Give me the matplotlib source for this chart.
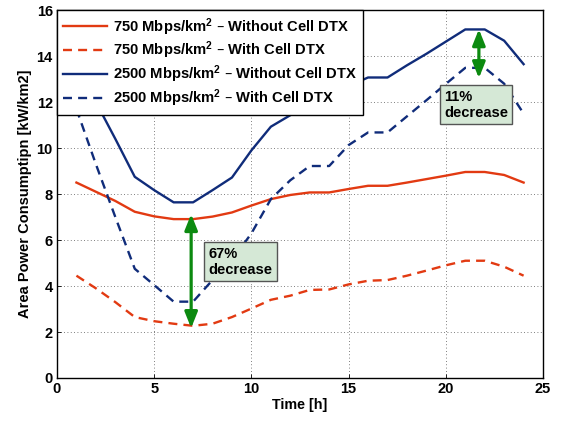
import matplotlib
matplotlib.use("Agg")
import matplotlib.pyplot as plt

plt.rcParams['font.family'] = ['Liberation Sans', 'DejaVu Sans']
plt.rcParams['font.weight'] = 'bold'
plt.rcParams['mathtext.default'] = 'regular'

hours = list(range(1, 25))
p750_without = [8.5, 8.1, 7.7, 7.23, 7.03, 6.91, 6.91, 7.02, 7.2, 7.5, 7.78, 7.96,
                8.07, 8.07, 8.22, 8.36, 8.36, 8.5, 8.65, 8.8, 8.96, 8.96, 8.83, 8.5]
p750_with = [4.45, 3.9, 3.3, 2.65, 2.47, 2.36, 2.27, 2.36, 2.65, 3.02, 3.4, 3.58,
             3.83, 3.85, 4.07, 4.23, 4.26, 4.45, 4.67, 4.9, 5.1, 5.1, 4.84, 4.45]
p2500_without = [13.6, 12.0, 10.4, 8.75, 8.17, 7.64, 7.64, 8.17, 8.72, 9.9, 10.93, 11.43,
                 12.2, 12.2, 12.7, 13.07, 13.07, 13.6, 14.1, 14.63, 15.16, 15.16, 14.67, 13.65]
p2500_with = [11.7, 9.3, 7.0, 4.75, 4.04, 3.32, 3.32, 4.26, 5.13, 6.29, 7.78, 8.6,
              9.22, 9.22, 10.13, 10.68, 10.68, 11.38, 12.08, 12.79, 13.49, 13.49, 12.8, 11.5]

labels = ['750 Mbps/km$^2$ \u2013 Without Cell DTX',
          '750 Mbps/km$^2$ \u2013 With Cell DTX',
          '2500 Mbps/km$^2$ \u2013 Without Cell DTX',
          '2500 Mbps/km$^2$ \u2013 With Cell DTX']

arrow1_x = 6.9
arrow1_y = (2.17, 7.13)
arrow2_x = 21.7
arrow2_y = (13.04, 15.17)
note1 = '67%\ndecrease'
note2 = '11%\ndecrease'

red = '#e23a12'
navy = '#102c7a'
green = '#0c8a10'

fig = plt.figure(figsize=(5.61, 4.22), dpi=100)
ax = fig.add_axes([0.1016, 0.1043, 0.8664, 0.8717])

lw = 1.7
dash = (0, (3.8, 2.6))
ax.plot(hours, p750_without, color=red, lw=lw, label=labels[0])
ax.plot(hours, p750_with, color=red, lw=lw, linestyle=dash, label=labels[1])
ax.plot(hours, p2500_without, color=navy, lw=lw, label=labels[2])
ax.plot(hours, p2500_with, color=navy, lw=lw, linestyle=dash, label=labels[3])

for x, (y0, y1) in [(arrow1_x, arrow1_y), (arrow2_x, arrow2_y)]:
    ax.annotate('', xy=(x, y1), xytext=(x, y0),
                arrowprops=dict(arrowstyle='<|-|>,head_length=0.95,head_width=0.38',
                                color=green, lw=2.3, shrinkA=0, shrinkB=0))

box = dict(boxstyle='square,pad=0.3', facecolor='#d5e8d6', edgecolor='#555555', lw=1.0)
ax.text(7.78, 5.06, note1, fontsize=10.5, fontweight='bold', va='center', ha='left',
        bbox=box, linespacing=1.2)
ax.text(19.9, 11.88, note2, fontsize=10.5, fontweight='bold', va='center', ha='left',
        bbox=box, linespacing=1.2)

ax.set_xlim(0, 25)
ax.set_ylim(0, 16)
ax.set_xticks([0, 5, 10, 15, 20, 25])
ax.set_yticks(range(0, 17, 2))
ax.grid(True, linestyle=(0, (1, 3)), color='#555555', lw=0.6)
ax.tick_params(direction='in', labelsize=10.5, length=3, width=0.6, pad=3)
for lab in ax.get_xticklabels() + ax.get_yticklabels():
    lab.set_fontweight('bold')
for s in ax.spines.values():
    s.set_linewidth(1.0)

ax.set_xlabel('Time [h]', fontsize=10.3, fontweight='bold', labelpad=1)
ax.set_ylabel('Area Power Consumptipn [kW/km2]', fontsize=10.5, fontweight='bold', labelpad=3)

leg = ax.legend(loc='upper left', fontsize=10.6, frameon=True, fancybox=False,
                framealpha=1, edgecolor='black', borderaxespad=0, handlelength=3.0,
                labelspacing=0.15, borderpad=0.4, handletextpad=0.4)
leg.get_frame().set_linewidth(1.0)
for t in leg.get_texts():
    t.set_fontweight('bold')

fig.savefig('out.png', dpi=100)
